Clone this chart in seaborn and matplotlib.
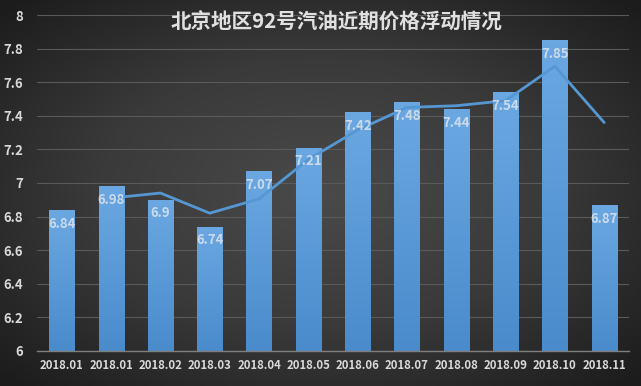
import numpy as np
import pandas as pd
import matplotlib
matplotlib.use("Agg")
import matplotlib.pyplot as plt
from matplotlib.colors import LinearSegmentedColormap
import seaborn as sns

# data
months = ["2018.01", "2018.01", "2018.02", "2018.03", "2018.04", "2018.05",
          "2018.06", "2018.07", "2018.08", "2018.09", "2018.10", "2018.11"]
prices = [6.84, 6.98, 6.90, 6.74, 7.07, 7.21, 7.42, 7.48, 7.44, 7.54, 7.85, 6.87]
# trend line (2-period average), starts at the second bar
trend = [6.91, 6.94, 6.82, 6.905, 7.14, 7.315, 7.45, 7.46, 7.49, 7.695, 7.36]

title = "北京地区92号汽油近期价格浮动情况"

sns.set_theme(style="dark")
plt.rcParams["font.family"] = ["Noto Sans CJK SC", "DejaVu Sans"]

df = pd.DataFrame({"idx": range(len(months)), "month": months, "price": prices})
df_line = pd.DataFrame({"idx": range(1, len(months)), "trend": trend})

fig = plt.figure(figsize=(6.41, 3.86), dpi=100)

# radial grey background
bg = fig.add_axes([0, 0, 1, 1], zorder=0)
yy, xx = np.mgrid[-1:1:300j, -1:1:500j]
r = np.sqrt((xx * 0.9) ** 2 + (yy * 0.9) ** 2)
bg_cmap = LinearSegmentedColormap.from_list("bg", ["#4a4a4a", "#3a3a3a", "#1c1c1c"])
bg.imshow(r, cmap=bg_cmap, aspect="auto", extent=[0, 1, 0, 1], vmin=0, vmax=1.25)
bg.axis("off")

ax = fig.add_axes([0.058, 0.091, 0.923, 0.870], zorder=1)
ax.set_facecolor("none")

sns.barplot(data=df, x="idx", y="price", color="#5b9bd5", width=0.51,
            saturation=1, ax=ax, zorder=2)
sns.lineplot(data=df_line, x="idx", y="trend", color="#5597d3", lw=2,
             ax=ax, zorder=3)

ax.set_ylim(6, 8)
ax.set_xlim(-0.5, len(months) - 0.5)
ax.set_yticks(np.arange(6, 8.01, 0.2))
ax.set_yticklabels(["6", "6.2", "6.4", "6.6", "6.8", "7", "7.2", "7.4",
                    "7.6", "7.8", "8"])
ax.set_xticks(range(len(months)))
ax.set_xticklabels(months)

# gradient fill on the bars
bar_cmap = LinearSegmentedColormap.from_list("bar", ["#4a8bcc", "#6ba8e2"])
grad = np.linspace(0, 1, 100).reshape(-1, 1)
for p in ax.patches:
    x0, y0 = p.get_x(), p.get_y()
    w, h = p.get_width(), p.get_height()
    im = ax.imshow(grad, cmap=bar_cmap, origin="lower", aspect="auto",
                   extent=[x0, x0 + w, 6, y0 + h], zorder=2)
    im.set_clip_path(p)
    p.set_alpha(0)
ax.set_xlim(-0.5, len(months) - 0.5)
ax.set_ylim(6, 8)

for i, v in enumerate(prices):
    ax.text(i, v - 0.04, f"{v:g}", ha="center", va="top", fontsize=9.5,
            fontweight="bold", color="#e4e8ee", alpha=0.8, zorder=4)

ax.grid(axis="y", color="#5a5a5a", lw=0.8, zorder=0)
ax.grid(axis="x", visible=False)
ax.set_axisbelow(True)
for s in ["top", "right", "left"]:
    ax.spines[s].set_visible(False)
ax.spines["bottom"].set_color("#7f7f7f")
ax.spines["bottom"].set_linewidth(1)
ax.tick_params(axis="y", colors="#d9d9d9", labelsize=9.5, length=0, pad=10)
ax.tick_params(axis="x", colors="#d9d9d9", labelsize=8.2, length=0, pad=6)
for lbl in ax.get_xticklabels() + ax.get_yticklabels():
    lbl.set_fontweight("bold")
ax.set_xlabel("")
ax.set_ylabel("")

fig.text(0.525, 0.943, title, ha="center", va="center", fontsize=14.8,
         fontweight="bold", color="#e0e0e0", zorder=5)

fig.savefig("out.png", dpi=100)
